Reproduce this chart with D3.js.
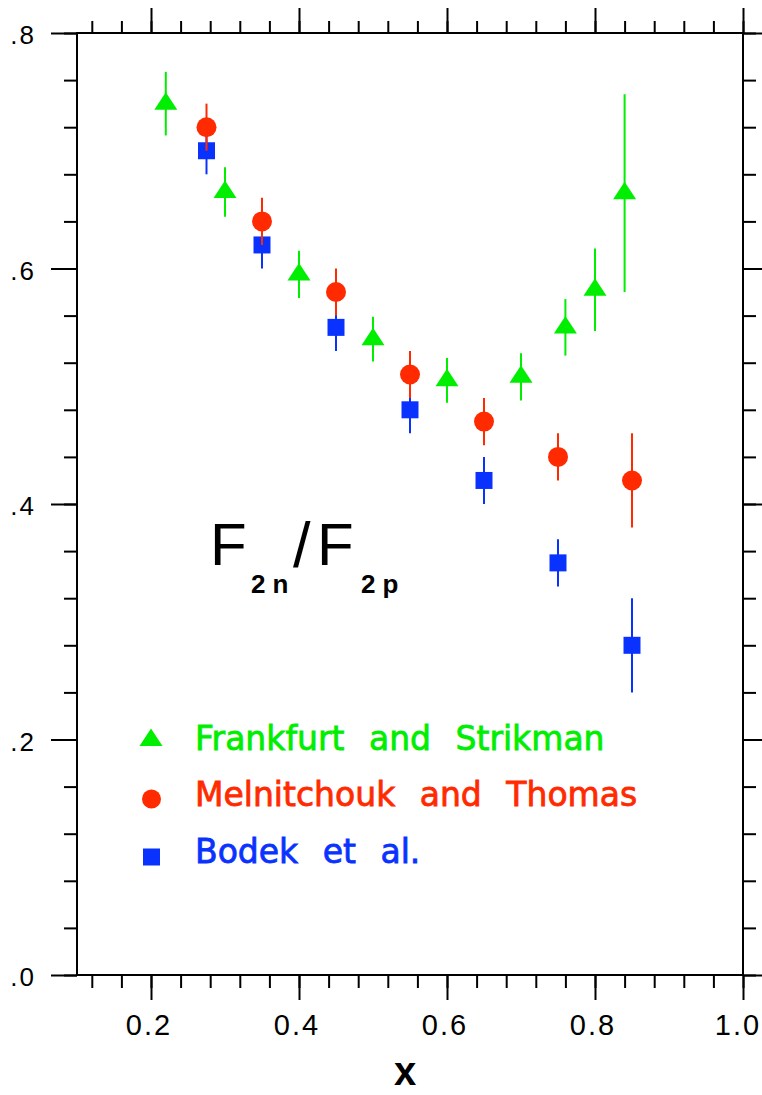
<!DOCTYPE html>
<html>
<head>
<meta charset="utf-8">
<script src="https://cdn.jsdelivr.net/npm/d3@7"></script>
<style>
  body { margin: 0; background: #fff; }
  svg { display: block; }
</style>
</head>
<body>
<div id="chart"></div>
<script>

// Frankfurt and Strikman
var fsX   = [0.22, 0.30, 0.40, 0.50, 0.60, 0.70, 0.76, 0.80, 0.84];
var fsY   = [0.740, 0.665, 0.595, 0.540, 0.505, 0.508, 0.550, 0.582, 0.664];
var fsErr = [0.027, 0.021, 0.020, 0.019, 0.019, 0.020, 0.024, 0.035, 0.084];

// Melnitchouk and Thomas
var mtX   = [0.275, 0.35, 0.45, 0.55, 0.65, 0.75, 0.85];
var mtY   = [0.72, 0.64, 0.58, 0.51, 0.47, 0.44, 0.42];
var mtErr = [0.02, 0.02, 0.02, 0.02, 0.02, 0.02, 0.04];

// Bodek et al.
var bkX   = [0.275, 0.35, 0.45, 0.55, 0.65, 0.75, 0.85];
var bkY   = [0.70, 0.62, 0.55, 0.48, 0.42, 0.35, 0.28];
var bkErr = [0.02, 0.02, 0.02, 0.02, 0.02, 0.02, 0.04];

var legendLabels = ["Frankfurt and Strikman", "Melnitchouk and Thomas", "Bodek et al."];
var xMajor = [0.2, 0.4, 0.6, 0.8, 1.0];
var yMajor = [0.0, 0.2, 0.4, 0.6, 0.8];

var width = 762, height = 1095;
var green = "#00ee00", red = "#ff2a00", blue = "#0a32ff";
var sans = "'Liberation Sans', Arial, sans-serif";

var svg = d3.select("#chart").append("svg")
  .attr("width", width)
  .attr("height", height);

var x = d3.scaleLinear().domain([0.1, 1.0]).range([77, 743]);
var y = d3.scaleLinear().domain([0, 0.8]).range([975, 33]);

var xMinor = d3.range(0.12, 1.001, 0.04).map(function(d) { return +d.toFixed(2); });
var yMinor = d3.range(0, 0.801, 0.04).map(function(d) { return +d.toFixed(2); });

function ticks(axisFn, scale, values, size, tx, ty) {
  var g = svg.append("g")
    .attr("transform", "translate(" + [tx, ty] + ")")
    .call(axisFn(scale).tickValues(values).tickSize(size).tickSizeOuter(0).tickFormat(""));
  g.select(".domain").remove();
  g.selectAll("line").attr("stroke", "#000").attr("stroke-width", 2);
}

// minor then major ticks on all four sides
ticks(d3.axisBottom, x, xMinor, 13, 0, y(0));
ticks(d3.axisBottom, x, xMajor, 25, 0, y(0));
ticks(d3.axisTop, x, xMinor, 12, 0, y(0.8));
ticks(d3.axisTop, x, xMajor, 25, 0, y(0.8));
ticks(d3.axisLeft, y, yMinor, 13, x(0.1), 0);
ticks(d3.axisLeft, y, yMajor, 26, x(0.1), 0);
ticks(d3.axisRight, y, yMinor, 13, x(1.0), 0);
ticks(d3.axisRight, y, yMajor, 26, x(1.0), 0);

// frame
svg.append("rect")
  .attr("x", x(0.1)).attr("y", y(0.8))
  .attr("width", x(1.0) - x(0.1)).attr("height", y(0) - y(0.8))
  .attr("fill", "none").attr("stroke", "#000").attr("stroke-width", 2);

// tick labels
svg.selectAll(".ylab").data(yMajor).enter().append("text")
  .attr("class", "ylab")
  .attr("x", 36).attr("y", function(d) { return y(d) + 11; })
  .attr("text-anchor", "end")
  .style("font-family", sans)
  .style("font-size", "26px")
  .style("letter-spacing", "2px")
  .text(function(d) { return d3.format(".1f")(d).replace(/^0/, ""); });

svg.selectAll(".xlab").data(xMajor).enter().append("text")
  .attr("class", "xlab")
  .attr("x", function(d) { return Math.min(x(d) - 2, 738); }).attr("y", 1035)
  .attr("text-anchor", "middle")
  .style("font-family", sans)
  .style("font-size", "29px")
  .style("letter-spacing", "2px")
  .text(function(d) { return d3.format(".1f")(d); });

svg.append("text")
  .attr("x", 405).attr("y", 1085)
  .attr("text-anchor", "middle")
  .style("font-family", sans)
  .style("font-size", "40px")
  .style("font-weight", "bold")
  .text("x");

// F2n/F2p annotation
var title = svg.append("text")
  .attr("y", 565)
  .style("font-family", sans)
  .style("font-size", "60px");
title.append("tspan").attr("x", 210).text("F");
title.append("tspan").attr("x", 251).attr("y", 593)
  .style("font-size", "26px").style("font-weight", "bold").style("letter-spacing", "7px").text("2n");
title.append("tspan").attr("x", 293).attr("y", 567).style("font-size", "63px").text("/");
title.append("tspan").attr("x", 317).attr("y", 565).text("F");
title.append("tspan").attr("x", 361).attr("y", 593)
  .style("font-size", "26px").style("font-weight", "bold").style("letter-spacing", "7px").text("2p");

// marker shapes
var triPath = "M0,-11.5L11.5,6L-11.5,6Z";

function errorBars(xs, ys, es, color) {
  svg.append("g").selectAll("line").data(xs).enter().append("line")
    .attr("x1", function(d) { return x(d); })
    .attr("x2", function(d) { return x(d); })
    .attr("y1", function(d, i) { return y(ys[i] + es[i]); })
    .attr("y2", function(d, i) { return y(ys[i] - es[i]); })
    .attr("stroke", color)
    .attr("stroke-width", 2);
}

// Bodek et al.
errorBars(bkX, bkY, bkErr, blue);
svg.append("g").selectAll("rect").data(bkX).enter().append("rect")
  .attr("x", function(d) { return x(d) - 8.5; })
  .attr("y", function(d, i) { return y(bkY[i]) - 8.5; })
  .attr("width", 17).attr("height", 17)
  .attr("fill", blue);

// Melnitchouk and Thomas
errorBars(mtX, mtY, mtErr, red);
svg.append("g").selectAll("circle").data(mtX).enter().append("circle")
  .attr("cx", function(d) { return x(d); })
  .attr("cy", function(d, i) { return y(mtY[i]); })
  .attr("r", 10)
  .attr("fill", red);

// Frankfurt and Strikman
errorBars(fsX, fsY, fsErr, green);
svg.append("g").selectAll("path").data(fsX).enter().append("path")
  .attr("d", triPath)
  .attr("transform", function(d, i) { return "translate(" + [x(d), y(fsY[i])] + ")"; })
  .attr("fill", green);

// legend
var legendColors = [green, red, blue];
var legendY = [750, 806, 863];
var lg = svg.append("g");
lg.append("path").attr("d", triPath)
  .attr("transform", "translate(151,740)").attr("fill", green);
lg.append("circle").attr("cx", 151.5).attr("cy", 799).attr("r", 9.5).attr("fill", red);
lg.append("rect").attr("x", 143).attr("y", 848.5).attr("width", 17).attr("height", 17).attr("fill", blue);

lg.selectAll("text").data(legendLabels).enter().append("text")
  .attr("x", 195)
  .attr("y", function(d, i) { return legendY[i]; })
  .attr("fill", function(d, i) { return legendColors[i]; })
  .attr("stroke", function(d, i) { return legendColors[i]; })
  .attr("stroke-width", 0.8)
  .style("font-family", "'DejaVu Sans', sans-serif")
  .style("font-size", "33px")
  .style("word-spacing", "14px")
  .text(function(d) { return d; });

</script>
</body>
</html>
